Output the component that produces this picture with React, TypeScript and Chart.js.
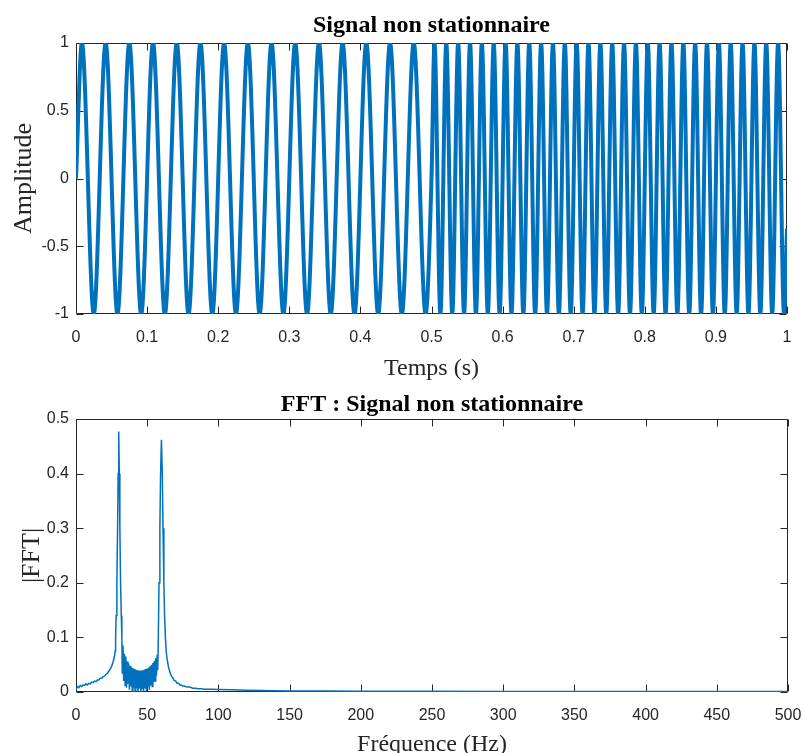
import React, { useEffect, useRef } from 'react';
import { Chart, registerables } from 'chart.js';

Chart.register(...registerables);

// ---------- Top plot: non-stationary signal (turning points) ----------
const signalTimes = [
  0,
  0.0083, 0.025, 0.0417, 0.0583, 0.075, 0.0917, 0.1083, 0.125, 0.1417, 0.1583,
  0.175, 0.1917, 0.2083, 0.225, 0.2417, 0.2583, 0.275, 0.2917, 0.3083, 0.325,
  0.3417, 0.3583, 0.375, 0.3917, 0.4083, 0.425, 0.4417, 0.4583, 0.475, 0.4917,
  0.5,
  0.5042, 0.5125, 0.5208, 0.5292, 0.5375, 0.5458, 0.5542, 0.5625, 0.5708, 0.5792,
  0.5875, 0.5958, 0.6042, 0.6125, 0.6208, 0.6292, 0.6375, 0.6458, 0.6542, 0.6625,
  0.6708, 0.6792, 0.6875, 0.6958, 0.7042, 0.7125, 0.7208, 0.7292, 0.7375, 0.7458,
  0.7542, 0.7625, 0.7708, 0.7792, 0.7875, 0.7958, 0.8042, 0.8125, 0.8208, 0.8292,
  0.8375, 0.8458, 0.8542, 0.8625, 0.8708, 0.8792, 0.8875, 0.8958, 0.9042, 0.9125,
  0.9208, 0.9292, 0.9375, 0.9458, 0.9542, 0.9625, 0.9708, 0.9792, 0.9875, 0.9958,
  1.0,
];
const signalValues = [
  0,
  1, -1, 1, -1, 1, -1, 1, -1, 1, -1,
  1, -1, 1, -1, 1, -1, 1, -1, 1, -1,
  1, -1, 1, -1, 1, -1, 1, -1, 1, -1,
  0,
  1, -1, 1, -1, 1, -1, 1, -1, 1, -1,
  1, -1, 1, -1, 1, -1, 1, -1, 1, -1,
  1, -1, 1, -1, 1, -1, 1, -1, 1, -1,
  1, -1, 1, -1, 1, -1, 1, -1, 1, -1,
  1, -1, 1, -1, 1, -1, 1, -1, 1, -1,
  1, -1, 1, -1, 1, -1, 1, -1, 1, -1,
  -0.37,
];
const timeTicks = [0, 0.1, 0.2, 0.3, 0.4, 0.5, 0.6, 0.7, 0.8, 0.9, 1];
const amplitudeTicks = [-1, -0.5, 0, 0.5, 1];

// ---------- Bottom plot: |FFT| ----------
const fftFreqs = [
  0, 1, 2, 3, 4, 5, 6, 7, 8, 9,
  10, 11, 12, 13, 14, 15, 16, 17, 18, 19,
  20, 21, 22, 23, 24, 25, 26, 27, 27.5, 27.8,
  28.2, 28.7, 29.2, 29.6, 30, 30.4, 30.8, 31.3, 31.8, 32.2,
  32.5, 33, 33.5, 34, 34.5, 35, 35.5, 36, 36.5, 37,
  37.5, 38, 38.5, 39, 39.5, 40, 40.5, 41, 41.5, 42,
  42.5, 43, 43.5, 44, 44.5, 45, 45.5, 46, 46.5, 47,
  47.5, 48, 48.5, 49, 49.5, 50, 50.5, 51, 51.5, 52,
  52.5, 53, 53.5, 54, 54.5, 55, 55.5, 56, 56.5, 57,
  57.4, 57.8, 58.3, 58.9, 59.4, 60, 60.6, 61.1, 61.7, 62.2,
  62.8, 63.3, 64, 65, 66, 67, 68, 69, 70, 71,
  72, 73, 74, 75, 76, 78, 80, 82, 84, 86,
  88, 90, 95, 100, 110, 120, 130, 140, 150, 175,
  200, 250, 300, 350, 400, 450, 500,
];
const fftMags = [
  0.005, 0.010, 0.008, 0.012, 0.010, 0.013, 0.012, 0.015, 0.013, 0.016,
  0.015, 0.018, 0.017, 0.020, 0.019, 0.022, 0.022, 0.025, 0.025, 0.028,
  0.029, 0.032, 0.034, 0.038, 0.042, 0.047, 0.055, 0.065, 0.075, 0.097,
  0.140, 0.200, 0.300, 0.400, 0.477, 0.400, 0.300, 0.200, 0.140, 0.100,
  0.035, 0.085, 0.020, 0.070, 0.012, 0.065, 0.008, 0.056, 0.015, 0.052,
  0.004, 0.048, 0.010, 0.045, 0.002, 0.044, 0.008, 0.042, 0.001, 0.041,
  0.007, 0.040, 0.001, 0.040, 0.006, 0.039, 0.000, 0.040, 0.006, 0.040,
  0.001, 0.041, 0.008, 0.042, 0.002, 0.043, 0.010, 0.045, 0.004, 0.047,
  0.012, 0.050, 0.010, 0.053, 0.018, 0.057, 0.020, 0.062, 0.030, 0.068,
  0.040, 0.100, 0.200, 0.300, 0.400, 0.462, 0.400, 0.300, 0.200, 0.140,
  0.100, 0.075, 0.060, 0.045, 0.036, 0.029, 0.026, 0.021, 0.020, 0.016,
  0.016, 0.013, 0.013, 0.011, 0.011, 0.009, 0.009, 0.007, 0.007, 0.006,
  0.006, 0.005, 0.005, 0.0045, 0.004, 0.0032, 0.0028, 0.0024, 0.002, 0.0017,
  0.0015, 0.0012, 0.001, 0.001, 0.0009, 0.0008, 0.0008,
];
const freqTicks = [0, 50, 100, 150, 200, 250, 300, 350, 400, 450, 500];
const magTicks = [0, 0.1, 0.2, 0.3, 0.4, 0.5];

const AXIS = '#262626';
const BLUE = '#0072BD';
const SERIF = "'Liberation Serif', 'Times New Roman', Times, serif";
const SANS = "'Liberation Sans', Arial, Helvetica, sans-serif";

// MATLAB-like box with inward tick marks on all four sides
const boxPlugin = {
  id: 'matlabBox',
  beforeDatasetsDraw(chart: any) {
    const { ctx, chartArea: a, scales } = chart;
    const tl = 7;
    const L = Math.round(a.left) + 0.5;
    const R = Math.round(a.right) - 0.5;
    const T = Math.round(a.top) + 0.5;
    const B = Math.round(a.bottom) - 0.5;
    ctx.save();
    ctx.strokeStyle = AXIS;
    ctx.lineWidth = 1;
    ctx.beginPath();
    ctx.rect(L, T, R - L, B - T);
    scales.x.ticks.forEach((t: any) => {
      const px = Math.round(scales.x.getPixelForValue(t.value)) + 0.5;
      ctx.moveTo(px, B);
      ctx.lineTo(px, B - tl);
      ctx.moveTo(px, T);
      ctx.lineTo(px, T + tl);
    });
    scales.y.ticks.forEach((t: any) => {
      const py = Math.round(scales.y.getPixelForValue(t.value)) + 0.5;
      ctx.moveTo(L, py);
      ctx.lineTo(L + tl, py);
      ctx.moveTo(R, py);
      ctx.lineTo(R - tl, py);
    });
    ctx.stroke();
    ctx.restore();
  },
};

function makeOptions(cfg: any) {
  return {
    responsive: false,
    animation: false,
    devicePixelRatio: 1,
    events: [],
    layout: { padding: { left: 0, right: cfg.padRight, top: 0, bottom: 0 } },
    plugins: {
      legend: { display: false },
      tooltip: { enabled: false },
      title: {
        display: true,
        text: cfg.title,
        fullSize: false,
        color: '#000',
        font: { family: SERIF, size: 24, weight: 'bold', lineHeight: 1.2 },
        padding: { top: cfg.titleTop, bottom: cfg.titleBottom },
      },
    },
    scales: {
      x: {
        type: 'linear',
        min: cfg.xMin,
        max: cfg.xMax,
        afterBuildTicks: (s: any) => {
          s.ticks = cfg.xTicks.map((v: number) => ({ value: v }));
        },
        afterFit: (s: any) => {
          s.height = cfg.xHeight;
          s.paddingLeft = 0;
          s.paddingRight = 0;
        },
        grid: { display: false, drawTicks: false },
        border: { display: false },
        ticks: {
          color: AXIS,
          font: { family: SANS, size: 16 },
          padding: 14,
          maxRotation: 0,
          autoSkip: false,
          callback: (v: any) => String(v),
        },
        title: {
          display: true,
          text: cfg.xTitle,
          color: AXIS,
          font: { family: SERIF, size: 24, lineHeight: 1.2 },
          padding: { top: 0, bottom: cfg.xTitlePad },
        },
      },
      y: {
        type: 'linear',
        min: cfg.yMin,
        max: cfg.yMax,
        afterBuildTicks: (s: any) => {
          s.ticks = cfg.yTicks.map((v: number) => ({ value: v }));
        },
        afterFit: (s: any) => {
          s.width = 76;
          s.paddingTop = 0;
          s.paddingBottom = 0;
        },
        grid: { display: false, drawTicks: false },
        border: { display: false },
        ticks: {
          color: AXIS,
          font: { family: SANS, size: 16 },
          padding: 7,
          autoSkip: false,
          callback: (v: any) => String(v),
        },
        title: {
          display: true,
          text: cfg.yTitle,
          color: AXIS,
          font: { family: SERIF, size: 26, lineHeight: 1.2 },
          padding: { top: cfg.yTitlePad, bottom: 0 },
        },
      },
    },
  };
}

export default function App() {
  const topRef = useRef<HTMLCanvasElement>(null);
  const botRef = useRef<HTMLCanvasElement>(null);

  useEffect(() => {
    const top = new Chart(topRef.current as HTMLCanvasElement, {
      type: 'line',
      data: {
        datasets: [
          {
            data: signalTimes.map((t, i) => ({ x: t, y: signalValues[i] })),
            borderColor: BLUE,
            borderWidth: 4,
            pointRadius: 0,
            cubicInterpolationMode: 'monotone',
            fill: false,
          },
        ],
      },
      options: makeOptions({
        title: 'Signal non stationnaire',
        titleTop: 11.1,
        titleBottom: 3.1,
        padRight: 17,
        xMin: 0,
        xMax: 1,
        xTicks: timeTicks,
        xHeight: 71,
        xTitle: 'Temps (s)',
        xTitlePad: 2,
        yMin: -1,
        yMax: 1,
        yTicks: amplitudeTicks,
        yTitle: 'Amplitude',
        yTitlePad: 8.4,
      }) as any,
      plugins: [boxPlugin],
    });

    const bot = new Chart(botRef.current as HTMLCanvasElement, {
      type: 'line',
      data: {
        datasets: [
          {
            data: fftFreqs.map((f, i) => ({ x: f, y: fftMags[i] })),
            borderColor: BLUE,
            borderWidth: 1.5,
            pointRadius: 0,
            tension: 0,
            fill: false,
          },
        ],
      },
      options: makeOptions({
        title: 'FFT : Signal non stationnaire',
        titleTop: 5.6,
        titleBottom: -0.4,
        padRight: 16,
        xMin: 0,
        xMax: 500,
        xTicks: freqTicks,
        xHeight: 78,
        xTitle: 'Fréquence (Hz)',
        xTitlePad: 10.5,
        yMin: 0,
        yMax: 0.5,
        yTicks: magTicks,
        yTitle: '|FFT|',
        yTitlePad: 17,
      }) as any,
      plugins: [boxPlugin],
    });

    return () => {
      top.destroy();
      bot.destroy();
    };
  }, []);

  return (
    <div
      style={{
        position: 'absolute',
        left: 0,
        top: 0,
        width: 804,
        height: 753,
        overflow: 'hidden',
        background: '#fff',
      }}
    >
      <canvas ref={topRef} width={804} height={385} style={{ display: 'block', width: 804, height: 385 }} />
      <canvas ref={botRef} width={804} height={385} style={{ display: 'block', width: 804, height: 385 }} />
    </div>
  );
}
